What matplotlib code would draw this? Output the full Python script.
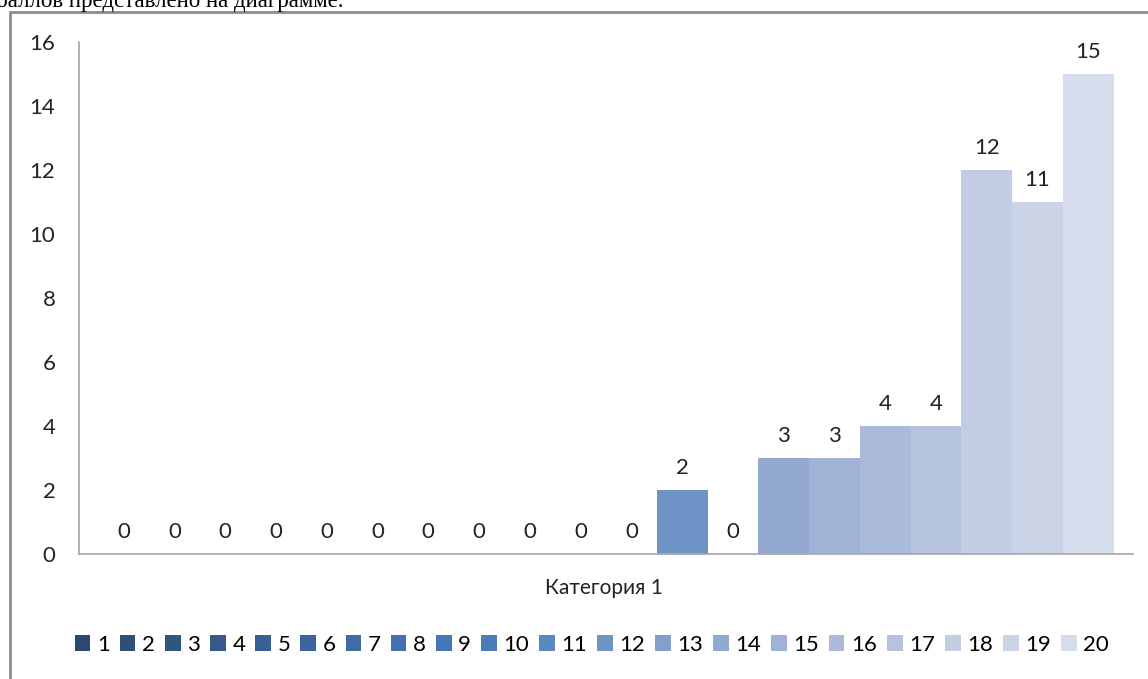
import matplotlib
matplotlib.use("Agg")
import matplotlib.pyplot as plt
from matplotlib.patches import Rectangle

# one category, twenty series (one bar each)
category = "Категория 1"
series_names = [str(i) for i in range(1, 21)]
values = [0, 0, 0, 0, 0, 0, 0, 0, 0, 0, 0, 2, 0, 3, 3, 4, 4, 12, 11, 15]
y_ticks = [0, 2, 4, 6, 8, 10, 12, 14, 16]

colors = ["#2C4770", "#2F4E7A", "#325482", "#355A8B", "#386094",
          "#3B669C", "#3E6CA5", "#4272AD", "#4677B5", "#4A7CBA",
          "#5A88C2", "#7093C7", "#83A0CC", "#94A9D0", "#A0B2D5",
          "#ABBAD9", "#B6C3DE", "#C2CCE3", "#CBD3E7", "#D5DCEB"]

plt.rcParams['font.family'] = ['Lato', 'DejaVu Sans']

W, H = 1148, 679
fig = plt.figure(figsize=(W / 100, H / 100), dpi=100)

def fx(px):
    return px / W

def fy(py):
    return 1 - py / H

# outer chart frame (cut by the image edges)
fig.patches.append(Rectangle((fx(10), fy(H + 20)), fx(W + 20 - 10), fy(12) - fy(H + 20),
                             transform=fig.transFigure, fill=False,
                             edgecolor="#8C8C8C", linewidth=2))

# text of the document above the chart, mostly cut off
fig.text(fx(-4), fy(7), "баллов представлено на диаграмме.", family="Liberation Serif",
         fontsize=16.5, ha="left", va="baseline", color="#000000")

left, right, top, bottom = 79, 1133, 42, 554
ax = fig.add_axes([fx(left), fy(bottom), fx(right - left), fy(top) - fy(bottom)])

bars = []
for i, (name, v) in enumerate(zip(series_names, values)):
    b = ax.bar(i, v, width=1.0, color=colors[i], label=name, linewidth=0)
    bars.append(b)
    ax.annotate(str(v), (i, v), xytext=(0, 9), textcoords="offset points",
                ha="center", va="bottom", fontsize=16, color="#222222")

gap = 0.38
ax.set_xlim(-0.5 - gap, len(values) - 0.5 + gap)
ax.set_ylim(0, 16)
ax.set_yticks(y_ticks)
ax.set_xticks([])
ax.tick_params(axis="y", length=0, pad=17, labelsize=16, labelcolor="#222222")
for s in ["top", "right"]:
    ax.spines[s].set_visible(False)
for s in ["left", "bottom"]:
    ax.spines[s].set_color("#A6A6A6")
    ax.spines[s].set_linewidth(1.2)

fig.text(fx(604), fy(588), category, ha="center", va="center", fontsize=15, color="#222222")

leg = fig.legend(handles=[b[0] for b in bars], labels=series_names, ncol=20,
                 loc="center", bbox_to_anchor=(fx(592), fy(645)), frameon=False,
                 fontsize=16, handlelength=0.7, handleheight=0.7,
                 handletextpad=0.3, columnspacing=0.45)

fig.savefig("out.png", dpi=100, facecolor="white")
